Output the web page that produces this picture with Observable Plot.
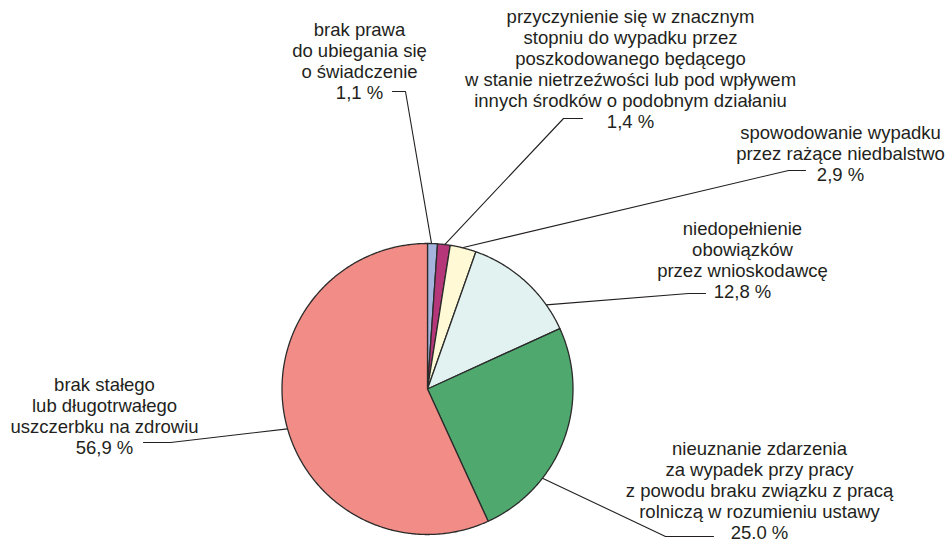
<!DOCTYPE html>
<html><head><meta charset="utf-8">
<script src="https://cdn.jsdelivr.net/npm/d3@7"></script>
<script src="https://cdn.jsdelivr.net/npm/@observablehq/plot@0.6"></script>
<style>html,body{margin:0;padding:0;background:#fff}#chart svg{display:block}</style>
</head><body><div id="chart"></div>
<script>
// ---- data ----
const categories = [
  "brak prawa\ndo ubiegania się\no świadczenie",
  "przyczynienie się w znacznym\nstopniu do wypadku przez\nposzkodowanego będącego\nw stanie nietrzeźwości lub pod wpływem\ninnych środków o podobnym działaniu",
  "spowodowanie wypadku\nprzez rażące niedbalstwo",
  "niedopełnienie\nobowiązków\nprzez wnioskodawcę",
  "nieuznanie zdarzenia\nza wypadek przy pracy\nz powodu braku związku z pracą\nrolniczą w rozumieniu ustawy",
  "brak stałego\nlub długotrwałego\nuszczerbku na zdrowiu"
];
const values = [1.1, 1.4, 2.9, 12.8, 25.0, 56.9];
const valueLabels = ["1,1 %", "1,4 %", "2,9 %", "12,8 %", "25.0 %", "56,9 %"];

// ---- style / layout ----
const colors = ["#a4b4de", "#b5377a", "#fff9d5", "#e2f2f1", "#4fa96f", "#f28c86"];
const W = 948, H = 543;
const cx = 427, cy = 388.5, R = 145.5;
const fontSize = 18.5, lineH = 21;
const labelX = [359, 630, 840, 742, 759, 104];
const labelBaseline = [33.5, 21, 136.5, 233, 452.5, 388.5];
const attachDeg = [1.6, 6.8, 13.8, 54.7, 127.8, 254.1];
const elbow = [[405, 91], [563, 118], [788, 170], [688, 293], [665, 536], [170, 442]];
const tail = [[392, 91], [582, 118], [805, 170], [705, 293], [713, 536], [143, 442]];

const rows = categories.map((c, i) => ({name: c, value: values[i], label: valueLabels[i]}));
const arcs = d3.pie().sort(null).value(d => d.value).startAngle(0).endAngle(2 * Math.PI)(rows);
const px = a => cx + R * Math.sin(a);
const py = a => cy - R * Math.cos(a);

const slicePts = [];
arcs.forEach((a, i) => {
  const n = Math.max(2, Math.ceil((a.endAngle - a.startAngle) / (Math.PI / 360)));
  slicePts.push({k: i, name: a.data.name, x: cx, y: cy});
  for (let j = 0; j <= n; j++) {
    const t = a.startAngle + (a.endAngle - a.startAngle) * j / n;
    slicePts.push({k: i, name: a.data.name, x: px(t), y: py(t)});
  }
  slicePts.push({k: i, name: a.data.name, x: cx, y: cy});
});

const leaderPts = [];
rows.forEach((r, i) => {
  const t = attachDeg[i] * Math.PI / 180;
  leaderPts.push({k: i, x: px(t), y: py(t)});
  leaderPts.push({k: i, x: elbow[i][0], y: elbow[i][1]});
  leaderPts.push({k: i, x: tail[i][0], y: tail[i][1]});
});

const labels = rows.map((r, i) => ({
  text: r.name + "\n" + r.label,
  x: labelX[i],
  y: labelBaseline[i] - 0.71 * fontSize
}));

const chart = Plot.plot({
  width: W, height: H,
  margin: 0,
  x: {domain: [0, W], range: [0, W], axis: null},
  y: {domain: [0, H], range: [0, H], axis: null},
  color: {domain: categories, range: colors},
  style: {fontFamily: "'Liberation Sans', Arial, Helvetica, sans-serif", background: "#fff"},
  marks: [
    Plot.line(leaderPts, {x: "x", y: "y", z: "k", stroke: "#231f20", strokeWidth: 1.1, curve: "linear"}),
    Plot.line(slicePts, {x: "x", y: "y", z: "k", fill: "name", stroke: "#2b2b2b", strokeWidth: 1.3, strokeLinejoin: "round", curve: "linear"}),
    Plot.text(labels, {x: "x", y: "y", text: "text", textAnchor: "middle", lineAnchor: "top", lineHeight: lineH / fontSize, fontSize: fontSize, fill: "#231f20"})
  ]
});
document.getElementById("chart").appendChild(chart);
</script>
</body></html>
